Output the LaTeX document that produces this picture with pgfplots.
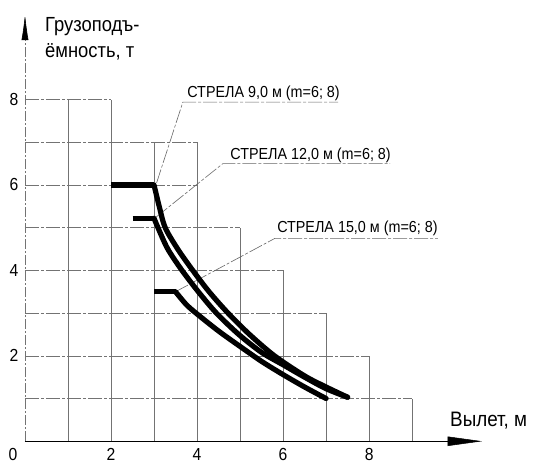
\documentclass[border=0pt]{standalone}
\usepackage{pgfplots}
\pgfplotsset{compat=1.18}
\usepackage{fontspec}
\setmainfont{Liberation Sans}[FakeStretch=0.9]
\usetikzlibrary{arrows.meta}

% staircase grid (1 x 1 cells under the stepped outline)
\pgfplotstableread{
x y
0 8
2 8
nan nan
0 7
4 7
nan nan
0 6
4 6
nan nan
0 5
5 5
nan nan
0 4
6 4
nan nan
0 3
7 3
nan nan
0 2
8 2
nan nan
0 1
9 1
}\gridh
\pgfplotstableread{
x y
1 0
1 8
nan nan
2 0
2 8
nan nan
3 0
3 7
nan nan
4 0
4 7
nan nan
5 0
5 5
nan nan
6 0
6 4
nan nan
7 0
7 3
nan nan
8 0
8 2
nan nan
9 0
9 1
}\gridv

\begin{document}
\begin{tikzpicture}
\begin{axis}[
  x=43bp, y=42.7bp,
  xmin=0, xmax=10.58, ymin=0, ymax=10,
  axis lines=left,
  x axis line style={draw=none},
  y axis line style={black!55, line width=0.6bp, dash pattern=on 10bp off 2bp on 2bp off 2bp,
    -{Latex[length=26bp,width=7bp,color=black]}},
  xtick={2,4,6,8}, ytick={2,4,6,8},
  extra x ticks={0},
  extra x tick style={xticklabel style={xshift=-12bp}},
  major tick length=0pt,
  /pgf/number format/assume math mode=true,
  tick label style={font=\fontsize{17.5}{20}\selectfont, inner sep=0pt},
  xticklabel style={anchor=north, yshift=-7bp},
  yticklabel style={anchor=east, xshift=-6.5bp},
  unbounded coords=jump,
  clip=false,
]
\addplot[black!55, line width=0.6bp, dash pattern=on 14bp off 2bp on 3bp off 2bp] table {\gridh};
\addplot[black!55, line width=0.6bp] table {\gridv};
% x axis and its arrow head
\addplot[black, line width=0.9bp] coordinates {(0,0) (10.3,0)};
\addplot[black, fill=black, line width=0.5bp] coordinates {(10.58,0) (9.83,0.105) (9.83,-0.105)} -- cycle;

% leader lines and underlines
\addplot[black!60, line width=0.6bp, dash pattern=on 14bp off 2bp on 3bp off 2bp]
  coordinates {(3.06,6.05) (3.67,7.94) (7.28,7.94)};
\addplot[black!60, line width=0.6bp, dash pattern=on 14bp off 2bp on 3bp off 2bp]
  coordinates {(3.05,5.25) (4.60,6.50) (8.49,6.50)};
\addplot[black!60, line width=0.6bp, dash pattern=on 14bp off 2bp on 3bp off 2bp]
  coordinates {(3.50,3.50) (5.81,4.75) (9.60,4.75)};

% boom 9.0 m
\addplot[black, line width=5.2bp] coordinates {(2,6) (3,6)};
\addplot[black, line width=5.2bp, smooth, tension=0.5, line cap=round] coordinates {
  (3,6) (3.12,5.5) (3.26,5.0) (3.55,4.5) (3.9,4.0) (4.28,3.5) (4.72,3.0)
  (5.22,2.5) (5.8,2.0) (6.5,1.53) (7.0,1.27) (7.5,1.03)};
% boom 12.0 m
\addplot[black, line width=5.2bp] coordinates {(2.5,5.22) (3,5.22)};
\addplot[black, line width=5.2bp, smooth, tension=0.5, line cap=round] coordinates {
  (3,5.22) (3.1,4.98) (3.32,4.5) (3.65,4.0) (4.03,3.5) (4.45,3.0) (4.97,2.5)
  (5.5,2.08) (6.0,1.79) (6.5,1.5) (7.0,1.23) (7.5,1.03)};
% boom 15.0 m
\addplot[black, line width=5.2bp] coordinates {(3,3.5) (3.5,3.5)};
\addplot[black, line width=5.2bp, smooth, tension=0.5, line cap=round] coordinates {
  (3.5,3.5) (3.75,3.2) (4.0,2.98) (4.5,2.58) (5.0,2.22) (5.5,1.87) (6.0,1.56)
  (6.5,1.27) (7.0,1.0)};

\node[anchor=base west, inner sep=0pt, font=\fontsize{16}{19}\selectfont]
  at (axis cs:3.77,8.04) {СТРЕЛА 9,0 м (m=6; 8)};
\node[anchor=base west, inner sep=0pt, font=\fontsize{16}{19}\selectfont]
  at (axis cs:4.77,6.60) {СТРЕЛА 12,0 м (m=6; 8)};
\node[anchor=base west, inner sep=0pt, font=\fontsize{16}{19}\selectfont]
  at (axis cs:5.86,4.89) {СТРЕЛА 15,0 м (m=6; 8)};

\node[anchor=north west, inner sep=0pt, align=left, font=\fontsize{20.5}{26.6}\selectfont]
  at (axis cs:0.465,9.93) {Грузоподъ-\\ёмность, т};
\node[anchor=base west, inner sep=0pt, font=\fontsize{21}{24}\selectfont]
  at (axis cs:9.88,0.335) {Вылет, м};

\coordinate (BL) at (axis cs:-0.581,-0.539);
\coordinate (TR) at (axis cs:11.81,10.33);
\end{axis}
\path (BL) rectangle (TR);
\end{tikzpicture}
\end{document}
